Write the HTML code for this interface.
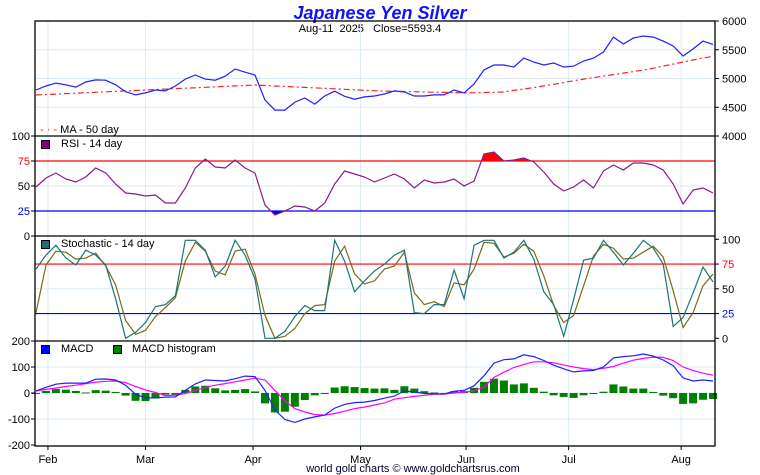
<!DOCTYPE html>
<html><head><meta charset="utf-8"><style>
body{margin:0;background:#fff;}
svg{display:block;font-family:"Liberation Sans",sans-serif;}
</style></head><body>
<svg id="c" width="760" height="475" viewBox="0 0 760 475">
<text x="380" y="19" text-anchor="middle" font-size="18" font-weight="bold" font-style="italic" fill="#1010ff">Japanese Yen Silver</text>
<text x="370" y="32" text-anchor="middle" font-size="11" fill="#000" xml:space="preserve">Aug-11  2025   Close=5593.4</text>
<g id="grid"></g>
<g id="marks"></g>
<g id="axes"></g>
<text x="413" y="472" text-anchor="middle" font-size="11" fill="#000033">world gold charts © www.goldchartsrus.com</text>
</svg>
<script>
const months = ["Feb","Mar","Apr","May","Jun","Jul","Aug"];
const monthIdx = [1.2,11.0,21.8,32.6,43.2,53.5,64.8];
const price = [4800,4870,4920,4890,4850,4940,4975,4970,4890,4770,4715,4750,4800,4785,4870,4990,5060,4990,4970,5040,5165,5110,5060,4625,4450,4450,4590,4660,4555,4695,4780,4690,4640,4680,4695,4730,4785,4765,4695,4695,4715,4715,4800,4750,4905,5150,5235,5235,5200,5355,5285,5235,5270,5200,5215,5305,5355,5460,5720,5600,5705,5740,5720,5650,5565,5390,5515,5650,5593];
const ma50 = [4713,4721,4729,4737,4745,4753,4760,4768,4776,4784,4792,4800,4808,4816,4824,4831,4839,4847,4855,4863,4871,4879,4887,4879,4870,4862,4854,4845,4837,4829,4820,4812,4804,4795,4787,4781,4778,4774,4770,4766,4762,4758,4754,4750,4752,4756,4760,4765,4795,4815,4843,4872,4900,4930,4960,4990,5016,5042,5068,5094,5120,5146,5180,5215,5251,5287,5322,5358,5383];
const rsi = [49,58,63,57,54,59,68,63,52,43,42,40,41,33,33,48,68,77,69,68,76,68,63,31,21,25,30,29,25,33,52,65,62,59,54,58,62,57,48,56,53,54,57,50,55,82,84,75,76,78,74,64,52,45,49,56,48,65,71,66,73,73,71,66,52,32,46,48,43];
const stochK = [70,84,94,81,74,89,84,74,40,0,6,16,32,34,43,99,99,89,62,73,99,84,60,0,0,7,22,33,28,28,99,78,47,58,68,75,84,89,26,25,34,34,69,40,94,99,99,81,87,99,80,47,34,2,39,79,81,99,87,74,86,99,91,75,12,21,46,72,57];
const stochD = [26,74,88,87,80,81,86,73,54,18,4,8,22,31,41,78,97,88,68,64,88,90,65,23,0,2,10,25,33,34,78,93,65,55,58,70,73,87,46,34,37,32,56,54,70,97,96,82,86,95,88,63,33,16,23,53,83,95,91,80,81,87,93,82,48,11,26,53,65];
const macd = [8,22,34,38,38,38,53,54,50,30,-5,-19,-19,-16,-15,10,35,50,48,46,55,65,63,10,-65,-102,-113,-100,-92,-85,-58,-44,-37,-35,-29,-20,-12,8,4,-2,-3,-4,7,10,28,66,115,128,131,147,140,125,107,93,81,85,87,100,135,140,143,150,142,127,105,58,46,50,46];
const signal = [8,14,19,25,30,36,42,45,46,40,25,12,2,-10,-8,-2,10,22,30,36,43,50,57,50,10,-30,-60,-73,-83,-85,-79,-70,-60,-54,-46,-38,-24,-18,-13,-9,-5,-4,0,3,8,23,60,80,98,110,120,120,116,108,100,94,90,95,102,115,126,133,138,137,125,100,86,76,69];
const priceTicks = [6000,5500,5000,4500,4000];
const pctTicks = [100,75,50,25,0];
const macdTicks = [200,100,0,-100,-200];

const NS="http://www.w3.org/2000/svg";
const L=35,R=715;
const N=price.length;
const X=i=>36+i*(713-36)/(N-1);
const yP=v=>21+(6000-v)*115/2000;
const yR=v=>236-v;
const yS=v=>338.3-v*0.99;
const yM=v=>393-v*0.26;
function el(tag,attrs,parent){const e=document.createElementNS(NS,tag);for(const k in attrs)e.setAttribute(k,attrs[k]);document.getElementById(parent).appendChild(e);return e;}
function pts(arr,fy){return arr.map((v,i)=>X(i).toFixed(1)+","+fy(v).toFixed(1)).join(" ");}

const gc="#dcebf5";
monthIdx.forEach((m,k)=>{const gx=X(m);
 let g=el("line",{x1:gx,x2:gx,y1:21,y2:446,stroke:gc,"stroke-width":1},"grid");
 
 
 let t=el("text",{x:gx,y:463,"text-anchor":"middle","font-size":11,fill:"#000"},"axes");t.textContent=months[k];
 
 
 let tk=el("line",{x1:gx,x2:gx,y1:446,y2:450,stroke:"#000"},"axes");
 
 
});
[5500,5000,4500].forEach(v=>{let g=el("line",{x1:L,x2:R,y1:yP(v),y2:yP(v),stroke:gc},"grid");});
let g1=el("line",{x1:L,x2:R,y1:yR(50),y2:yR(50),stroke:gc},"grid");
let g2=el("line",{x1:L,x2:R,y1:yS(50),y2:yS(50),stroke:gc},"grid");
[100,0,-100].forEach(v=>{let g=el("line",{x1:L,x2:R,y1:yM(v),y2:yM(v),stroke:gc},"grid");});

[[yR(75),"#ff0000"],[yR(25),"#0000ff"],[yS(75),"#ff0000"],[yS(25),"#0000ff"]].forEach(([y,c])=>{let l=el("line",{x1:L,x2:R,y1:y,y2:y,stroke:c,"stroke-width":1.2},"marks");});

let ma=el("polyline",{points:pts(ma50,yP),fill:"none",stroke:"#ff2020","stroke-width":1.2,"stroke-dasharray":"6,3,2,3"},"marks");


let pl=el("polyline",{points:pts(price,yP),fill:"none",stroke:"#1f1fff","stroke-width":1.2},"marks");



const defs=el("defs",{},"marks");
let c1=document.createElementNS(NS,"clipPath");c1.setAttribute("id","above");defs.appendChild(c1);
let r1=document.createElementNS(NS,"rect");r1.setAttribute("x",L);r1.setAttribute("y",136);r1.setAttribute("width",R-L);r1.setAttribute("height",yR(75)-136);c1.appendChild(r1);
let c2=document.createElementNS(NS,"clipPath");c2.setAttribute("id","below");defs.appendChild(c2);
let r2=document.createElementNS(NS,"rect");r2.setAttribute("x",L);r2.setAttribute("y",yR(25));r2.setAttribute("width",R-L);r2.setAttribute("height",236-yR(25));c2.appendChild(r2);
const rp=pts(rsi,yR);
let fa=el("polygon",{points:X(0)+","+yR(75)+" "+rp+" "+X(N-1)+","+yR(75),fill:"#ff0000","clip-path":"url(#above)"},"marks");


let fb=el("polygon",{points:X(0)+","+yR(25)+" "+rp+" "+X(N-1)+","+yR(25),fill:"#0000ff","clip-path":"url(#below)"},"marks");


let rl=el("polyline",{points:rp,fill:"none",stroke:"#8a1a8a","stroke-width":1.2},"marks");



let sd=el("polyline",{points:pts(stochD,yS),fill:"none",stroke:"#7a6a1a","stroke-width":1.2},"marks");


let sk=el("polyline",{points:pts(stochK,yS),fill:"none",stroke:"#1a7575","stroke-width":1.2},"marks");



macd.forEach((v,i)=>{const h=v-signal[i];const y0=yM(0),y1=yM(h);
 let b=el("rect",{x:X(i)-4,y:Math.min(y0,y1),width:8,height:Math.max(1,Math.abs(y1-y0)),fill:"#008000"},"marks");
 
 
});
let sg=el("polyline",{points:pts(signal,yM),fill:"none",stroke:"#ff00ff","stroke-width":1.2},"marks");


let ml=el("polyline",{points:pts(macd,yM),fill:"none",stroke:"#1f1fff","stroke-width":1.2},"marks");



let fr=el("rect",{x:L,y:21,width:R-L,height:425,fill:"none",stroke:"#000","stroke-width":1.3},"axes");


[136,236,341].forEach(y=>{let s=el("line",{x1:L,x2:R,y1:y,y2:y,stroke:"#000","stroke-width":1.3},"axes");});

function lab(x,y,txt,anchor,col,name){let t=el("text",{x:x,y:y+4,"text-anchor":anchor,"font-size":11,fill:col},"axes");t.textContent=txt;
 
 
 let tk=el("line",{x1:anchor==="end"?L-4:R,x2:anchor==="end"?L:R+4,y1:y,y2:y,stroke:"#000"},"axes");
 
 }
priceTicks.forEach(v=>lab(R+7,yP(v),String(v),"start","#000","price-tick-label"));
pctTicks.forEach(v=>lab(L-5,yR(v),String(v),"end",v===75?"#ff0000":v===25?"#0000ff":"#000","rsi-tick-label"));
pctTicks.forEach(v=>lab(R+7,yS(v),String(v),"start",v===75?"#ff0000":v===25?"#0000ff":"#000","stoch-tick-label"));
macdTicks.forEach(v=>lab(L-5,yM(v),String(v),"end","#000","macd-tick-label"));
</script>
<div style="position:absolute;left:0;top:0;width:760px;height:475px;pointer-events:none;font-family:'Liberation Sans',sans-serif;font-size:11px;">
<div style="position:absolute;left:40px;top:124px;color:#000;"><span style="color:#ff2020;">- · -</span> MA - 50 day</div>
<div style="position:absolute;left:41px;top:140px;width:7px;height:7px;background:#800080;border:1px solid #000;"></div>
<div style="position:absolute;left:61px;top:138px;">RSI - 14 day</div>
<div style="position:absolute;left:41px;top:240px;width:7px;height:7px;background:#1a7070;border:1px solid #000;"></div>
<div style="position:absolute;left:61px;top:238px;">Stochastic - 14 day</div>
<div style="position:absolute;left:41px;top:345px;width:7px;height:7px;background:#0000ff;border:1px solid #000;"></div>
<div style="position:absolute;left:61px;top:343px;">MACD</div>
<div style="position:absolute;left:113px;top:345px;width:7px;height:7px;background:#008000;border:1px solid #000;"></div>
<div style="position:absolute;left:132px;top:343px;">MACD histogram</div>
</div>
</body></html>
